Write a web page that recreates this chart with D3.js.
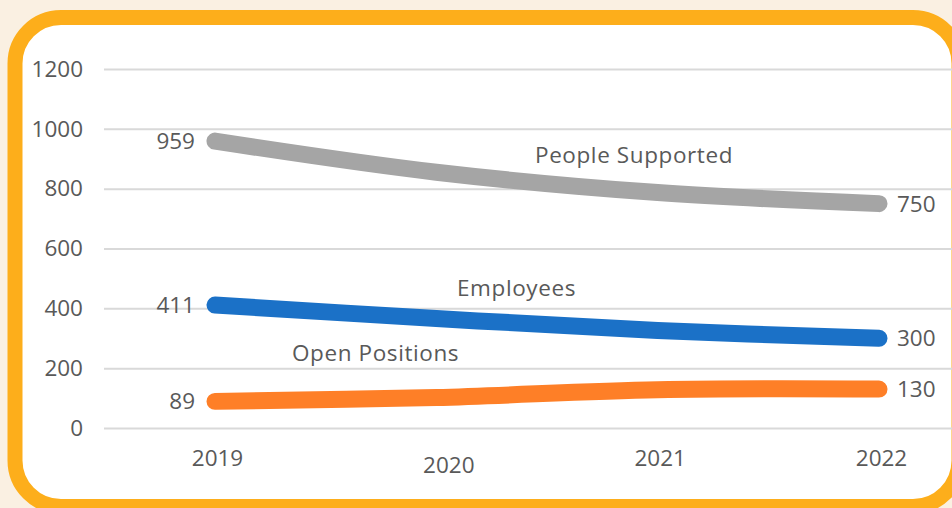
<!DOCTYPE html>
<html>
<head>
<meta charset="utf-8">
<script src="https://cdnjs.cloudflare.com/ajax/libs/d3/7.8.5/d3.min.js"></script>
<style>
  html, body { margin: 0; padding: 0; background: #faf0e2; }
  svg { display: block; }
  text { font-family: "Open Sans", "Noto Sans", sans-serif; fill: #595959; }
</style>
</head>
<body>
<svg width="952" height="508"></svg>
<script>
// chart data
const years = ["2019", "2020", "2021", "2022"];
const peopleSupported = [959, 855, 787, 750];
const employees = [411, 366, 326, 300];
const openPositions = [89, 102, 128, 130];
const yTicks = [0, 200, 400, 600, 800, 1000, 1200];

const series = [
  { name: "People Supported", values: peopleSupported, color: "#a5a5a5" },
  { name: "Employees", values: employees, color: "#1b71c7" },
  { name: "Open Positions", values: openPositions, color: "#fe7f27" }
];

const svg = d3.select("svg"),
    margin = {top: 69, right: 0, bottom: 80, left: 104},
    width = 952 - margin.left - margin.right,
    height = 508 - margin.top - margin.bottom;

// orange rounded frame
svg.append("rect")
    .attr("x", 15)
    .attr("y", 17.5)
    .attr("width", 944)
    .attr("height", 489)
    .attr("rx", 46)
    .attr("ry", 46)
    .attr("fill", "#fff")
    .attr("stroke", "#fdae1b")
    .attr("stroke-width", 15);

const g = svg.append("g").attr("transform", "translate(" + margin.left + "," + margin.top + ")");

const x = d3.scalePoint()
    .domain(years)
    .range([111, 775]);

const y = d3.scaleLinear()
    .domain([0, 1200])
    .range([height, 0]);

// y axis + gridlines
const yAxis = g.append("g")
    .attr("class", "axis axis--y")
    .call(d3.axisLeft(y).tickValues(yTicks).tickFormat(d3.format("d")).tickSize(-width - 10).tickPadding(21));
yAxis.select(".domain").remove();
yAxis.selectAll(".tick line").attr("stroke", "#d9d9d9").attr("stroke-width", 2);
yAxis.selectAll(".tick text").attr("font-size", "22.5px").attr("fill", "#595959");

// x axis
const xAxis = g.append("g")
    .attr("class", "axis axis--x")
    .attr("transform", "translate(0," + height + ")")
    .call(d3.axisBottom(x).tickSize(0).tickPadding(22));
xAxis.select(".domain").remove();
xAxis.selectAll(".tick text")
    .attr("font-size", "22.5px")
    .attr("fill", "#595959")
    .attr("dx", d => d === "2020" ? 12 : 2)
    .attr("dy", d => d === "2020" ? "1.0em" : "0.71em");

const line = d3.line()
    .x((d, i) => x(years[i]))
    .y(d => y(d))
    .curve(d3.curveCatmullRom.alpha(0.5));

g.selectAll(".series")
    .data(series)
  .enter().append("path")
    .attr("class", "series")
    .attr("d", d => line(d.values))
    .attr("fill", "none")
    .attr("stroke", d => d.color)
    .attr("stroke-width", 17)
    .attr("stroke-linejoin", "round")
    .attr("stroke-linecap", "round");

// first / last value labels
series.forEach(s => {
  g.append("text")
      .attr("x", x(years[0]) - 20)
      .attr("y", y(s.values[0]))
      .attr("dy", "0.36em")
      .attr("text-anchor", "end")
      .attr("font-size", "22.5px")
      .text(s.values[0]);
  g.append("text")
      .attr("x", x(years[years.length - 1]) + 18)
      .attr("y", y(s.values[s.values.length - 1]))
      .attr("dy", "0.36em")
      .attr("font-size", "22.5px")
      .text(s.values[s.values.length - 1]);
});

// series name labels
const nameLabels = [
  { i: 0, x: 535 - margin.left, y: 163 - margin.top },
  { i: 1, x: 457 - margin.left, y: 296 - margin.top },
  { i: 2, x: 292 - margin.left, y: 361 - margin.top }
];
nameLabels.forEach(l => {
  g.append("text")
      .attr("x", l.x)
      .attr("y", l.y)
      .attr("font-size", "22.5px")
      .attr("letter-spacing", "0.6px")
      .text(series[l.i].name);
});
</script>
</body>
</html>
